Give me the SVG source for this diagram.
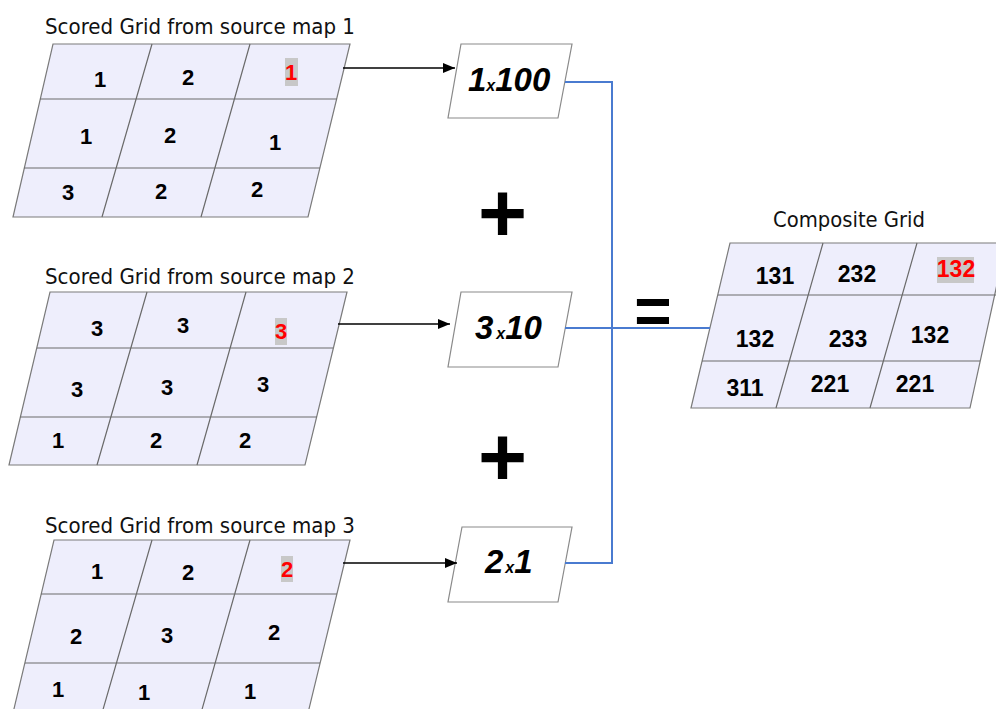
<svg xmlns="http://www.w3.org/2000/svg" width="996" height="709" viewBox="0 0 996 709">
  <style>
    .cell { fill: #eeeefc; stroke: #7a7a7a; stroke-width: 1.2; }
    .div { stroke: #6a6a6a; stroke-width: 1.2; fill: none; }
    .title { font-family: "DejaVu Sans", Verdana, sans-serif; font-size: 21.5px; fill: #111; }
    .num { font-family: "Liberation Sans", Arial, sans-serif; font-size: 22px; font-weight: bold; fill: #000; text-anchor: middle; }
    .cnum { font-family: "Liberation Sans", Arial, sans-serif; font-size: 23px; font-weight: bold; fill: #000; text-anchor: middle; }
    .hl { fill: #ff0000; }
    .hlbg { fill: #c8c8c8; }
    .factor { fill: #ffffff; stroke: #8a8a8a; stroke-width: 1.2; }
    .mult { font-family: "Liberation Sans", Arial, sans-serif; font-size: 33px; font-weight: bold; font-style: italic; fill: #000; }
    .times { font-size: 16px; }
    .op { font-family: "Liberation Sans", Arial, sans-serif; font-weight: bold; fill: #000; text-anchor: middle; }
    .arrow { stroke: #000; stroke-width: 1.5; fill: none; }
    .sum { stroke: #4a7bd0; stroke-width: 2; fill: none; }
  </style>
  <defs>
    <marker id="head" markerUnits="userSpaceOnUse" markerWidth="12" markerHeight="10" refX="12" refY="5" orient="auto">
      <path d="M0,0 L12,5 L0,10 z" fill="#000"/>
    </marker>
  </defs>

  <rect width="996" height="709" fill="#ffffff"/>

  <!-- source grid 1 -->
  <g id="grid1">
    <text class="title" x="45" y="34" textLength="310" lengthAdjust="spacingAndGlyphs">Scored Grid from source map 1</text>
    <polygon class="cell" points="53,44 350,44 308,217 13,217"/>
    <path class="div" d="M40,99 H337 M24,168 H320 M152,44 L102,217 M250,44 L201,217"/>
    <rect class="hlbg" x="285" y="58" width="13" height="28"/>
    <text class="num" x="100" y="87">1</text>
    <text class="num" x="188" y="85">2</text>
    <text class="num hl" x="291" y="80">1</text>
    <text class="num" x="86" y="144">1</text>
    <text class="num" x="170" y="143">2</text>
    <text class="num" x="275" y="150">1</text>
    <text class="num" x="68" y="200">3</text>
    <text class="num" x="161" y="199">2</text>
    <text class="num" x="257" y="197">2</text>
  </g>

  <!-- source grid 2 -->
  <g id="grid2">
    <text class="title" x="45" y="284" textLength="310" lengthAdjust="spacingAndGlyphs">Scored Grid from source map 2</text>
    <polygon class="cell" points="50,292 347,292 305,465 9,465"/>
    <path class="div" d="M37,348 H333 M20,417 H317 M147,292 L97,465 M246,292 L197,465"/>
    <rect class="hlbg" x="275" y="318" width="12" height="27"/>
    <text class="num" x="97" y="336">3</text>
    <text class="num" x="183" y="333">3</text>
    <text class="num hl" x="281" y="339">3</text>
    <text class="num" x="77" y="397">3</text>
    <text class="num" x="167" y="395">3</text>
    <text class="num" x="263" y="392">3</text>
    <text class="num" x="58" y="448">1</text>
    <text class="num" x="156" y="448">2</text>
    <text class="num" x="245" y="448">2</text>
  </g>

  <!-- source grid 3 (runs past the bottom edge) -->
  <g id="grid3">
    <text class="title" x="45" y="533" textLength="310" lengthAdjust="spacingAndGlyphs">Scored Grid from source map 3</text>
    <polygon class="cell" points="54,540 350,540 308,713 13,713"/>
    <path class="div" d="M41,594 H337 M25,663 H320 M152,540 L102,713 M250,540 L201,713"/>
    <rect class="hlbg" x="281" y="556" width="12" height="26"/>
    <text class="num" x="97" y="579">1</text>
    <text class="num" x="188" y="580">2</text>
    <text class="num hl" x="287" y="577">2</text>
    <text class="num" x="76" y="644">2</text>
    <text class="num" x="167" y="643">3</text>
    <text class="num" x="274" y="640">2</text>
    <text class="num" x="58" y="697">1</text>
    <text class="num" x="144" y="700">1</text>
    <text class="num" x="250" y="699">1</text>
  </g>

  <!-- weighting factors -->
  <g id="factor1">
    <polygon class="factor" points="461,44 572,44 558,118 448,118"/>
    <text class="mult" x="468" y="91">1<tspan class="times">x</tspan>100</text>
  </g>
  <g id="factor2">
    <polygon class="factor" points="461,292 572,292 558,367 448,367"/>
    <text class="mult" x="475" y="339">3<tspan class="times" dx="3">x</tspan>10</text>
  </g>
  <g id="factor3">
    <polygon class="factor" points="462,527 572,527 558,602 448,602"/>
    <text class="mult" x="485" y="573">2<tspan class="times" dx="2">x</tspan>1</text>
  </g>

  <!-- operators -->
  <g id="plus1"><text class="op" x="502.5" y="242" font-size="84">+</text></g>
  <g id="plus2"><text class="op" x="502.5" y="486" font-size="84">+</text></g>
  <g id="equals"><text class="op" x="653" y="333" font-size="64">=</text></g>

  <!-- composite grid (runs past the right edge) -->
  <g id="composite">
    <text class="title" x="773" y="227" textLength="152" lengthAdjust="spacingAndGlyphs">Composite Grid</text>
    <polygon class="cell" points="730,243 1006,243 970,408 691,408"/>
    <path class="div" d="M718,295 H996 M702,361 H980 M823,243 L776,408 M917,243 L870,408"/>
    <rect class="hlbg" x="937" y="257" width="37" height="26"/>
    <text class="cnum" x="775" y="284">131</text>
    <text class="cnum" x="857" y="282">232</text>
    <text class="cnum hl" x="956" y="277">132</text>
    <text class="cnum" x="755" y="347">132</text>
    <text class="cnum" x="848" y="347">233</text>
    <text class="cnum" x="930" y="343">132</text>
    <text class="cnum" x="745" y="396">311</text>
    <text class="cnum" x="830" y="392">221</text>
    <text class="cnum" x="915" y="392">221</text>
  </g>

  <!-- connectors -->
  <g id="connectors">
    <path class="arrow" d="M343,68 H455" marker-end="url(#head)"/>
    <path class="arrow" d="M338,324 H450" marker-end="url(#head)"/>
    <path class="arrow" d="M343,563 H457" marker-end="url(#head)"/>
    <path class="sum" d="M565,82 H612 V563 H565"/>
    <path class="sum" d="M565,328 H710"/>
  </g>
</svg>
